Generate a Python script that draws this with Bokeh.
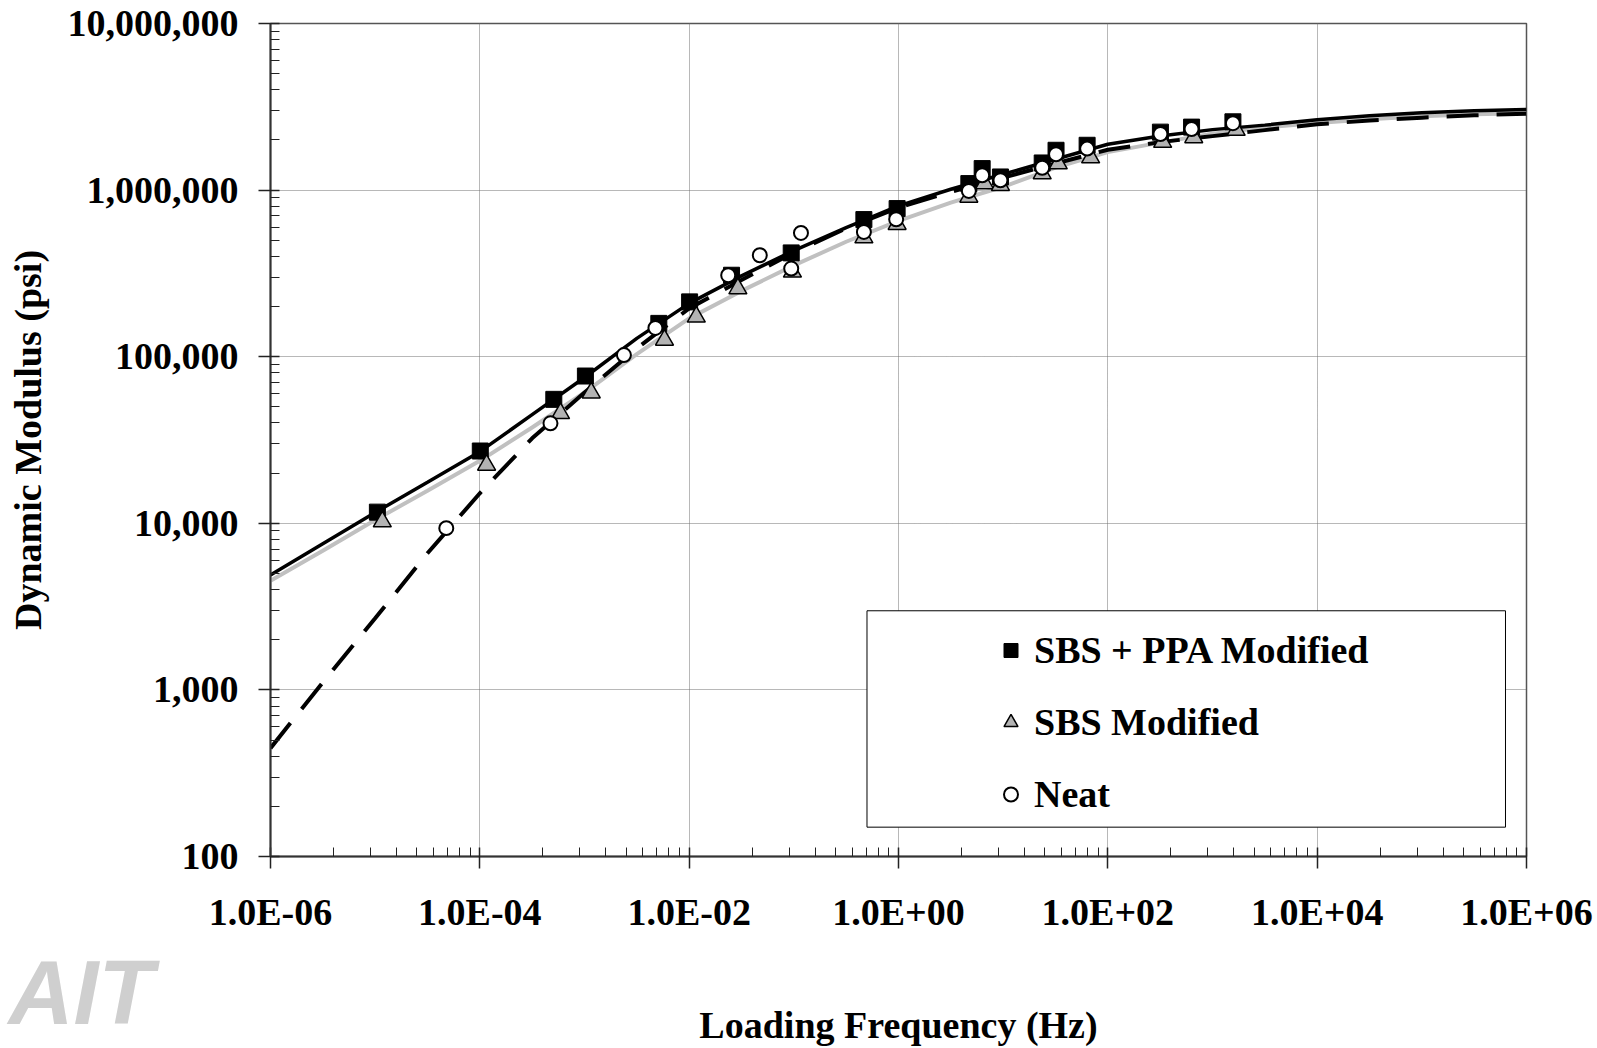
from bokeh.plotting import figure
from bokeh.models import (FixedTicker, CustomJSTickFormatter, Legend, LegendItem,
                          BoxAnnotation, Title, Range1d)
from bokeh.embed import file_html
from bokeh.resources import INLINE

# ---------------- data ----------------
series_labels = ["SBS + PPA Modified", "SBS Modified", "Neat"]

ppa_freq = [1.05e-5, 1.01e-4, 5.09e-4, 1.02e-3, 5.13e-3, 1.01e-2, 2.54e-2, 9.44e-2,
            0.467, 0.97, 4.70, 6.30, 9.42, 23.6, 32.0, 63.4, 318, 631, 1567]
ppa_mod = [11670, 27160, 55460, 76560, 158500, 213300, 308300, 419800,
           665300, 774500, 1094000, 1346000, 1199000, 1455000, 1734000, 1858000,
           2228000, 2388000, 2570000]

sbs_freq = [1.17e-5, 1.16e-4, 5.90e-4, 1.16e-3, 5.81e-3, 1.17e-2, 2.92e-2, 9.70e-2,
            0.467, 0.97, 4.70, 6.64, 9.42, 23.6, 33.6, 68.5, 334, 662, 1683]
sbs_mod = [10230, 22390, 45710, 60810, 125900, 173400, 256400, 322800,
           518800, 623700, 909900, 1094000, 1069000, 1256000, 1442000, 1567000,
           1941000, 2070000, 2291000]

neat_freq = [4.78e-5, 4.73e-4, 2.38e-3, 4.76e-3, 2.36e-2, 4.73e-2, 9.44e-2, 0.117,
             0.467, 0.95, 4.70, 6.30, 9.42, 23.6, 32.0, 63.4, 318, 631, 1567]
neat_mod = [9354, 39810, 102300, 148900, 308300, 406400, 338100, 553400,
            561000, 668300, 988600, 1227000, 1146000, 1361000, 1641000, 1774000,
            2168000, 2323000, 2523000]

fit_freq = [1e-6, 3.16e-6, 1e-5, 3.16e-5, 1e-4, 3.16e-4, 1e-3, 3.16e-3, 1e-2, 3.16e-2,
            0.1, 0.316, 1, 3.16, 10, 31.6, 100, 316, 1000, 3160, 1e4, 3.16e4,
            1e5, 3.16e5, 1e6]
fit_ppa = [4900, 7550, 11610, 17620, 26920, 44880, 74990, 128800, 208900, 305500,
           433500, 595700, 803500, 1011600, 1244500, 1531100, 1883600, 2113500,
           2306700, 2454700, 2642400, 2792500, 2910700, 2992300, 3047900]
fit_sbs = [4520, 6840, 10470, 15670, 23710, 37580, 60950, 103500, 169800, 248300,
           353200, 489800, 653100, 841400, 1047100, 1364600, 1690400, 1927500,
           2182700, 2376800, 2523500, 2660700, 2773300, 2851000, 2897300]
fit_neat = [447, 1109, 2692, 6607, 15140, 32360, 60950, 112200, 195000, 288400,
            421700, 588800, 785200, 977200, 1188500, 1445400, 1745800, 1940900,
            2108600, 2290900, 2483100, 2618200, 2722700, 2811900, 2877400]

x_tick_values = [1e-6, 1e-4, 1e-2, 1, 1e2, 1e4, 1e6]
y_tick_values = [1e2, 1e3, 1e4, 1e5, 1e6, 1e7]

FONT = "Liberation Serif"

# ---------------- figure ----------------
p = figure(width=1597, height=1048, x_axis_type="log", y_axis_type="log",
           x_range=Range1d(1e-6, 1e6), y_range=Range1d(1e2, 1e7),
           output_backend="svg", toolbar_location=None,
           min_border_left=270, min_border_right=71, min_border_top=23,
           min_border_bottom=191,
           background_fill_color="white", border_fill_color="white",
           outline_line_color="#555555", outline_line_width=1.5)

x_minor = [10.0 ** a * k * k for a in range(-6, 6, 2) for k in range(2, 10)]
y_minor = [10.0 ** b * k for b in range(2, 7) for k in range(2, 10)]
xt = FixedTicker(ticks=x_tick_values, minor_ticks=x_minor)
yt = FixedTicker(ticks=y_tick_values, minor_ticks=y_minor)
p.xaxis.ticker = xt
p.yaxis.ticker = yt
p.xgrid.ticker = xt
p.ygrid.ticker = yt

p.xaxis.formatter = CustomJSTickFormatter(code="""
const e = Math.round(Math.log10(tick));
const a = Math.abs(e);
return "1.0E" + (e < 0 ? "-" : "+") + (a < 10 ? "0" : "") + a;
""")
p.yaxis.formatter = CustomJSTickFormatter(code="""
return Math.round(tick).toLocaleString('en-US');
""")

for ax in (p.xaxis, p.yaxis):
    ax.axis_line_color = "#333333"
    ax.axis_line_width = 2
    ax.major_tick_line_color = "#222222"
    ax.major_tick_line_width = 1.5
    ax.minor_tick_line_color = "#222222"
    ax.minor_tick_line_width = 1
    ax.major_tick_out = 12
    ax.major_tick_in = 9
    ax.minor_tick_out = 0
    ax.minor_tick_in = 9
    ax.major_label_text_font = FONT
    ax.major_label_text_font_style = "bold"
    ax.major_label_text_font_size = "38px"
    ax.major_label_text_color = "black"
    ax.axis_label_text_font = FONT
    ax.axis_label_text_font_style = "bold"
    ax.axis_label_text_font_size = "38px"
    ax.axis_label_text_color = "black"

p.xaxis.major_label_standoff = 22
p.yaxis.major_label_standoff = 20
p.xaxis.axis_label = "Loading Frequency (Hz)"
p.yaxis.axis_label = "Dynamic Modulus (psi)"
p.xaxis.axis_label_standoff = 68
p.yaxis.axis_label_standoff = 16

for g in (p.xgrid, p.ygrid):
    g.grid_line_color = "#707070"
    g.grid_line_width = 1
    g.grid_line_dash = "1 1"

# ---------------- fitted curves ----------------
p.line(fit_freq, fit_sbs, line_color="#c0c0c0", line_width=4)
p.line(fit_freq, fit_ppa, line_color="black", line_width=3.5)
p.line(fit_freq, fit_neat, line_color="black", line_width=4, line_dash="32 18")

# ---------------- measured points ----------------
r_ppa = p.scatter(ppa_freq, ppa_mod, marker="square", size=16,
                  fill_color="black", line_color="black", line_width=1)
r_sbs = p.scatter(sbs_freq, sbs_mod, marker="triangle", size=18,
                  fill_color="#b3b3b3", line_color="black", line_width=1.5)
r_neat = p.scatter(neat_freq, neat_mod, marker="circle", size=14,
                   fill_color="white", line_color="black", line_width=2)

# ---------------- legend ----------------
box = BoxAnnotation(left=0.5, right=6.3e5, bottom=150, top=2985,
                    fill_color="white", fill_alpha=1.0,
                    line_color="black", line_width=1, line_alpha=1.0)
p.add_layout(box)

legend = Legend(items=[LegendItem(label=series_labels[0], renderers=[r_ppa]),
                       LegendItem(label=series_labels[1], renderers=[r_sbs]),
                       LegendItem(label=series_labels[2], renderers=[r_neat])],
                location=(723, 40), padding=0, spacing=28, margin=0,
                glyph_width=35, glyph_height=44, label_standoff=6,
                label_text_font=FONT, label_text_font_style="bold",
                label_text_font_size="38px", label_text_color="black",
                background_fill_alpha=0, border_line_color=None)
p.add_layout(legend)

# ---------------- watermark text (below panel, no extra layout space) ----------------
p.add_layout(Title(text="AIT", align="left", vertical_align="top",
                   offset=-262, standoff=-211,
                   text_font="Liberation Sans", text_font_style="bold italic",
                   text_font_size="90px", text_color="#cfcfcf"), "below")

open("out.html", "w").write(file_html(p, INLINE))
